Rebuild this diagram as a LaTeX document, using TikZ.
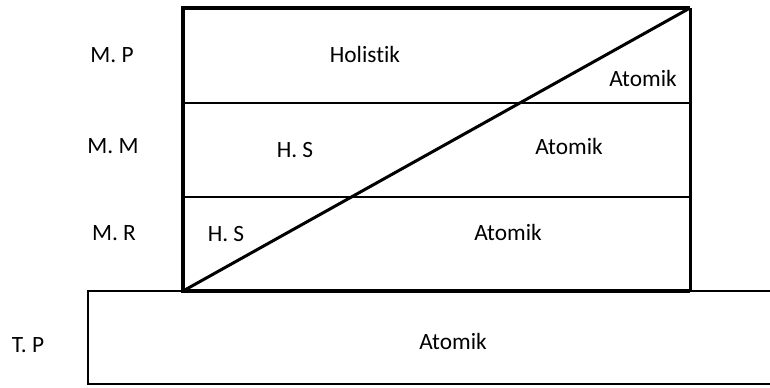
\documentclass[tikz,border=0pt]{standalone}
\usepackage{fontspec}
\setmainfont[Ligatures=NoCommon]{Carlito}
\tikzset{every picture/.style={line width=0.75pt}}
\tikzset{lbl/.style={inner sep=0.75pt, font=\fontsize{17.5}{20}\selectfont}}

\begin{document}
\begin{tikzpicture}[x=0.75pt,y=0.75pt,yscale=-1,xscale=1]
\useasboundingbox (0,0) rectangle (770,387);
\clip (0,0) rectangle (770,387);

%Corners of the main box
\coordinate (tl) at (183,8);
\coordinate (tr) at (690,8);
\coordinate (bl) at (183,291);
\coordinate (br) at (690,291);
\coordinate (ml1) at (183,103);
\coordinate (mr1) at (690,103);
\coordinate (ml2) at (183,197);
\coordinate (mr2) at (690,197);

%Shape: Rectangle (base)
\draw [line width=1.5]  (88,291) rectangle (775,384) ;
%Dividers
\draw [line width=1.5]  (ml1) -- (mr1) ;
\draw [line width=1.5]  (ml2) -- (mr2) ;
%Right side
\draw [line width=2.25]  (tr) -- (br) ;
%Left, top, bottom sides
\draw [line width=3]  (br) -- (bl) -- (tl) -- (tr) ;
%Diagonal
\draw [line width=2.25]  (bl) -- (tr) ;

% Text Node
\node [lbl] (mp) at (112,55) {M. P};
% Text Node
\node [lbl] (mm) at (113,146) {M. M};
% Text Node
\node [lbl] (mr) at (114,233) {M. R};
% Text Node
\node [lbl] (tp) at (28,345) {T. P};
% Text Node
\node [lbl] (holistik) at (365,54) {Holistik};
% Text Node
\node [lbl] (atomikp) at (643,78) {Atomik};
% Text Node
\node [lbl] (hsm) at (295,150) {H. S};
% Text Node
\node [lbl] (atomikm) at (569,146) {Atomik};
% Text Node
\node [lbl] (hsr) at (226,234) {H. S};
% Text Node
\node [lbl] (atomikr) at (508,232) {Atomik};
% Text Node
\node [lbl] (atomikt) at (453,341) {Atomik};

\end{tikzpicture}
\end{document}
